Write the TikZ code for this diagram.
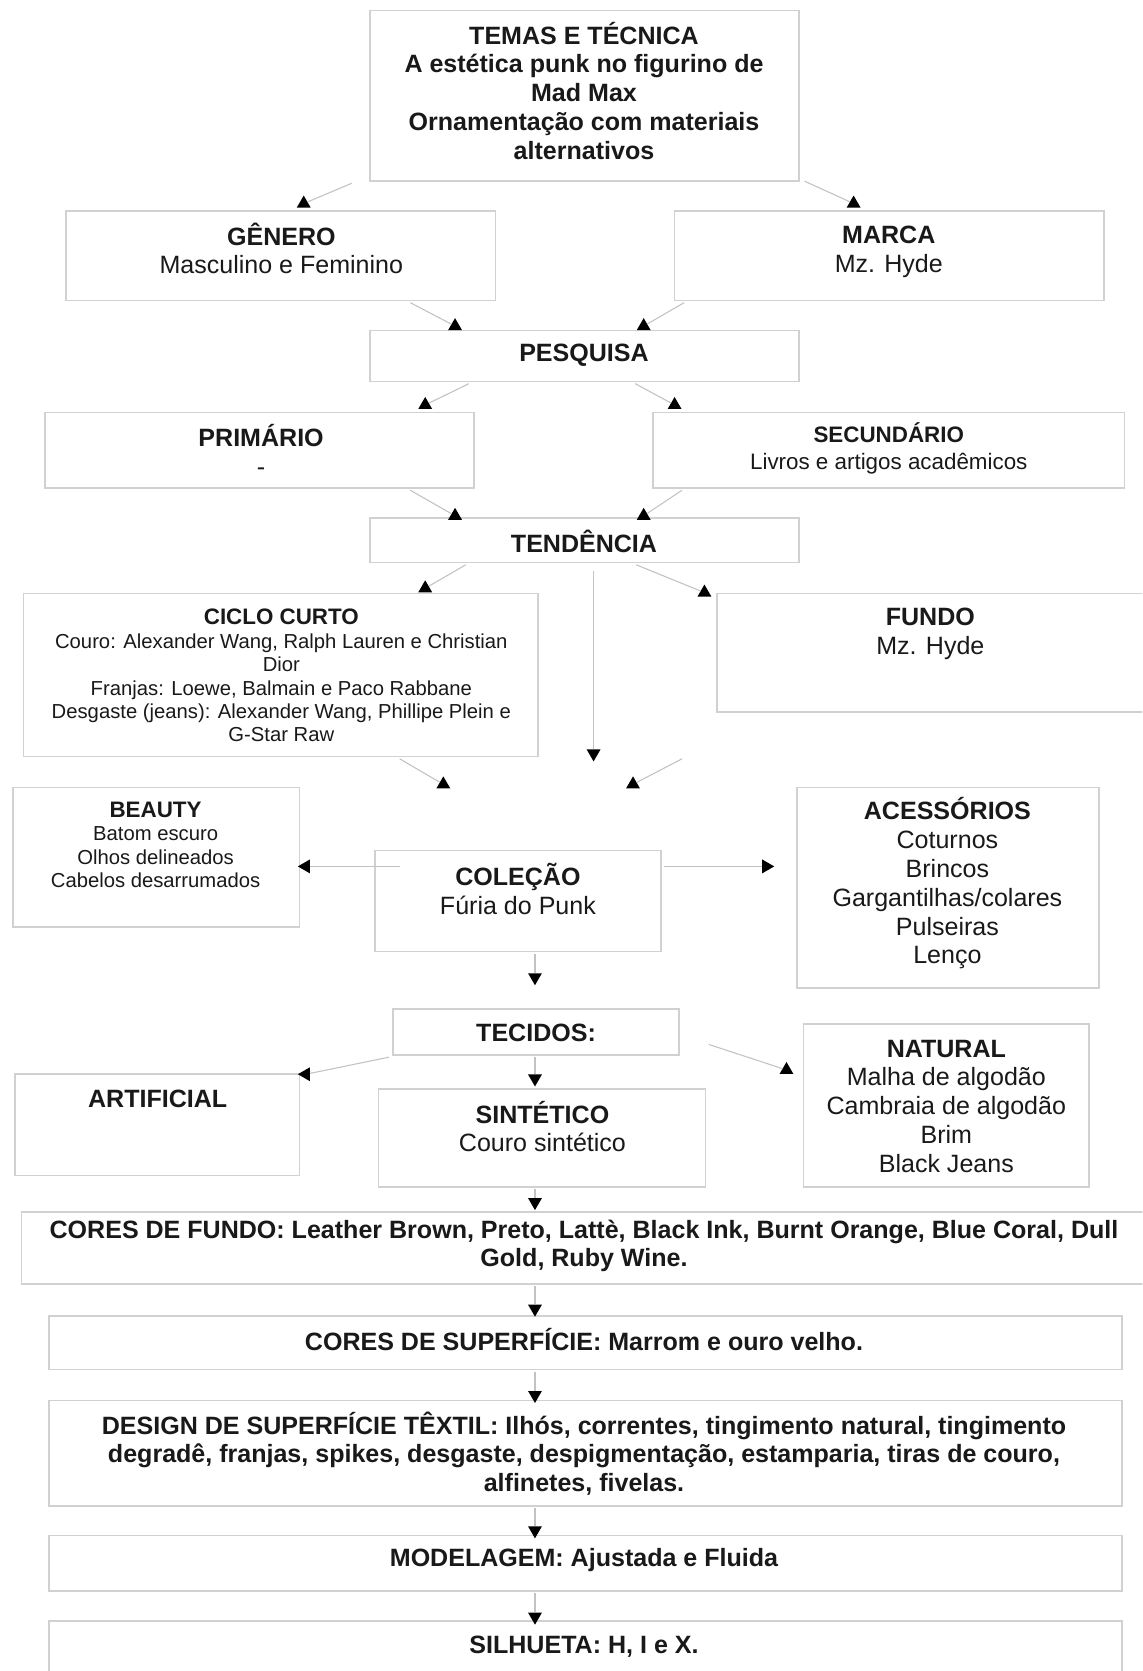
\documentclass[tikz,border=0pt]{standalone}
\usepackage{fontspec}
\setmainfont{Liberation Sans}
\usetikzlibrary{shapes.geometric}
\definecolor{boxgray}{gray}{0.82}
\definecolor{linegray}{gray}{0.76}
\newcommand\fA{\fontsize{23.5}{27}\selectfont}
\newcommand\fB{\fontsize{21}{25}\selectfont}
\newcommand\fC{\fontsize{19}{22}\selectfont}
\tikzset{
  box/.style={draw=boxgray, line width=1.5pt, inner sep=0pt},
  txt/.style={align=center, inner sep=0pt, font=\fA, text=black!90},
  conn/.style={draw=linegray, line width=1pt},
  tri/.style={regular polygon, regular polygon sides=3, fill=black, draw=none, minimum size=15pt, inner sep=0pt},
}
\newcommand\mybox[5]{\node[box, minimum width={(#4-#2)*1pt}, minimum height={(#5-#3)*1pt}] (#1) at ({(#2+#4)/2},{(#3+#5)/2}) {};}
\newcommand\myarrow[6]{\coordinate (#1s) at (#2,#3); \node[tri, shape border rotate=#6] (#1h) at (#4,#5) {}; \draw[conn] (#1s) -- (#1h);}
\begin{document}
\begin{tikzpicture}[x=1pt,y=-1pt]
\clip (0,0) rectangle (1072,1568);
\fill[white] (0,0) rectangle (1072,1568);
% boxes
\mybox{temas}{347}{10}{750}{170}
\mybox{genero}{62}{198}{465}{282}
\mybox{marca}{633}{198}{1036}{282}
\mybox{pesquisa}{347}{310}{750}{358}
\mybox{primario}{42}{387}{445}{458}
\mybox{secundario}{613}{387}{1055}{458}
\mybox{tendencia}{347}{486}{750}{528}
\mybox{ciclo}{22}{557}{505}{710}
\mybox{fundo}{673}{557}{1085}{668}
\mybox{beauty}{12}{739}{281}{870}
\mybox{colecao}{352}{798}{620}{893}
\mybox{acess}{748}{739}{1031}{927}
\mybox{tecidos}{369}{947}{637}{990}
\mybox{artificial}{14}{1008}{281}{1103}
\mybox{sintetico}{355}{1022}{662}{1114}
\mybox{natural}{754}{961}{1022}{1114}
\mybox{coresfundo}{20}{1137}{1085}{1205}
\mybox{coressup}{46}{1235}{1053}{1285}
\mybox{design}{46}{1314}{1053}{1413}
\mybox{modelagem}{46}{1441}{1053}{1493}
\mybox{silhueta}{46}{1521}{1053}{1585}
% texts
\node[txt, font=\fA\bfseries] (temas-t) at (548,85) {TEMAS E TÉCNICA\\A estética punk no figurino de\\Mad Max\\Ornamentação com materiais\\alternativos};
\node[txt] (genero-t) at (264,233) {{\bfseries GÊNERO}\\Masculino e Feminino};
\node[txt] (marca-t) at (834,236) {{\bfseries MARCA}\\Mz. Hyde};
\node[txt, font=\fA\bfseries] (pesquisa-t) at (548,333) {PESQUISA};
\node[txt] (primario-t) at (245,422) {{\bfseries PRIMÁRIO}\\-};
\node[txt, font=\fB] (secundario-t) at (834,421) {{\bfseries SECUNDÁRIO}\\Livros e artigos acadêmicos};
\node[txt, font=\fA\bfseries] (tendencia-t) at (548,508) {TENDÊNCIA};
\node[txt, font=\fC] (ciclo-t) at (264,634) {{\fB\bfseries CICLO CURTO}\\Couro: Alexander Wang, Ralph Lauren e Christian\\Dior\\Franjas: Loewe, Balmain e Paco Rabbane\\Desgaste (jeans): Alexander Wang, Phillipe Plein e\\G-Star Raw};
\node[txt] (fundo-t) at (873,595) {{\bfseries FUNDO}\\Mz. Hyde};
\node[txt, font=\fC] (beauty-t) at (146,793) {{\fB\bfseries BEAUTY}\\Batom escuro\\Olhos delineados\\Cabelos desarrumados};
\node[txt] (colecao-t) at (486,834) {{\bfseries COLEÇÃO}\\Fúria do Punk};
\node[txt] (acess-t) at (889,829) {{\bfseries ACESSÓRIOS}\\Coturnos\\Brincos\\Gargantilhas/colares\\Pulseiras\\Lenço};
\node[txt, font=\fA\bfseries] (tecidos-t) at (503,969) {TECIDOS:};
\node[txt, font=\fA\bfseries] (artificial-t) at (148,1031) {ARTIFICIAL};
\node[txt] (sintetico-t) at (509,1057) {{\bfseries SINTÉTICO}\\Couro sintético};
\node[txt] (natural-t) at (888,1038) {{\bfseries NATURAL}\\Malha de algodão\\Cambraia de algodão\\Brim\\Black Jeans};
\node[txt, font=\fA\bfseries] (coresfundo-t) at (548,1169) {CORES DE FUNDO: Leather Brown, Preto, Lattè, Black Ink, Burnt Orange, Blue Coral, Dull\\Gold, Ruby Wine.};
\node[txt, font=\fA\bfseries] (coressup-t) at (548,1257) {CORES DE SUPERFÍCIE: Marrom e ouro velho.};
\node[txt, font=\fA\bfseries] (design-t) at (548,1364) {DESIGN DE SUPERFÍCIE TÊXTIL: Ilhós, correntes, tingimento natural, tingimento\\degradê, franjas, spikes, desgaste, despigmentação, estamparia, tiras de couro,\\alfinetes, fivelas.};
\node[txt, font=\fA\bfseries] (modelagem-t) at (548,1464) {MODELAGEM: Ajustada e Fluida};
\node[txt, font=\fA\bfseries] (silhueta-t) at (548,1545) {SILHUETA: H, I e X.};
% connectors
\myarrow{a1}{330}{172}{285}{191}{0}
\myarrow{a2}{755}{170}{801}{191}{0}
\myarrow{a3}{385}{284}{427}{306}{0}
\myarrow{a4}{642}{284}{604}{306}{0}
\myarrow{a5}{440}{360}{399}{380}{0}
\myarrow{a6}{596}{360}{633}{380}{0}
\myarrow{a7}{385}{460}{427}{484}{0}
\myarrow{a8}{640}{460}{604}{484}{0}
\myarrow{a9}{437}{530}{399}{552}{0}
\myarrow{a10}{597}{530}{661}{556}{0}
\myarrow{a11}{557}{536}{557}{707}{180}
\myarrow{a12}{375}{712}{416}{736}{0}
\myarrow{a13}{640}{712}{594}{736}{0}
\myarrow{a14}{375}{813}{287}{813}{90}
\myarrow{a15}{623}{813}{719}{813}{270}
\myarrow{a16}{502}{895}{502}{917}{180}
\myarrow{a17}{365}{992}{287}{1008}{90}
\myarrow{a18}{502}{992}{502}{1012}{180}
\myarrow{a19}{665}{980}{738}{1004}{0}
\myarrow{a20}{502}{1116}{502}{1128}{180}
\myarrow{a21}{502}{1207}{502}{1228}{180}
\myarrow{a22}{502}{1287}{502}{1309}{180}
\myarrow{a23}{502}{1415}{502}{1436}{180}
\myarrow{a24}{502}{1495}{502}{1517}{180}
\end{tikzpicture}
\end{document}
